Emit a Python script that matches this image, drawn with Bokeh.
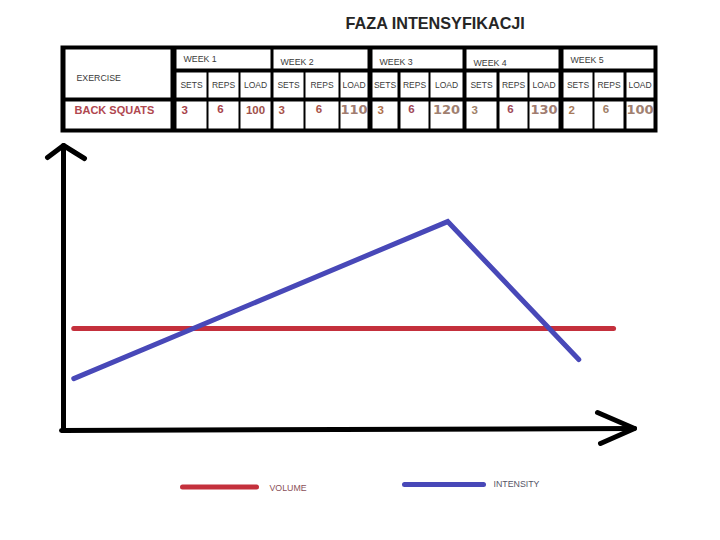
from bokeh.plotting import figure
from bokeh.models import Range1d, ColumnDataSource
from bokeh.embed import file_html
from bokeh.resources import INLINE
from bokeh.core.properties import value

# ---------------- data ----------------
title_text = "FAZA INTENSYFIKACJI"
exercise_label = "EXERCISE"
exercise_name = "BACK SQUATS"
weeks = ["WEEK 1", "WEEK 2", "WEEK 3", "WEEK 4", "WEEK 5"]
sub_columns = ["SETS", "REPS", "LOAD"]
sets = [3, 3, 3, 3, 2]
reps = [6, 6, 6, 6, 6]
loads = [100, 110, 120, 130, 100]

# chart lines (percent of axis length)
intensity_x = [1.8, 67.4, 90.4]
intensity_y = [18.2, 73.3, 24.9]
volume_x = [1.8, 96.5]
volume_y = [35.8, 35.8]
legend_labels = ["VOLUME", "INTENSITY"]

# ---------------- figure ----------------
X0, X1, Y0, Y1 = 0, 704, 0, 524
p = figure(width=X1 - X0, height=Y1 - Y0,
           x_range=Range1d(X0, X1), y_range=Range1d(Y1, Y0),
           output_backend="svg", toolbar_location=None, min_border=0,
           x_axis_location=None, y_axis_location=None)
p.xgrid.visible = False
p.ygrid.visible = False
p.outline_line_color = None
p.background_fill_color = "white"
p.border_fill_color = "white"

# chart coordinate system (axis origin and scale on the page)
ox, oy, sx, sy = 63, 430, 5.7, 2.85
p.extra_x_ranges = {"cx": Range1d((X0 - ox) / sx, (X1 - ox) / sx)}
p.extra_y_ranges = {"cy": Range1d((oy - Y1) / sy, (oy - Y0) / sy)}

# ---------------- title ----------------
p.text(x=[435], y=[22], text=[title_text], text_font=value("Liberation Sans"),
       text_font_size="16.2px", text_font_style="bold", text_color="#262626",
       text_align="center", text_baseline="middle")

# ---------------- table ----------------
sub_bounds = [(176, 206), (208, 238), (240, 270), (273, 303), (305, 338),
              (340, 367), (372, 397), (400, 428), (430, 462), (466, 496),
              (499, 527), (529, 558), (563, 592), (594, 623), (626, 653)]
row_week, row_sub, row_data = (49, 68), (72, 97), (101, 128)

p.quad(left=[60], right=[657], top=[45], bottom=[132], fill_color="black", line_color=None)

cl, cr, ct, cb = [], [], [], []
def cell(l, r, t, b):
    cl.append(l); cr.append(r); ct.append(t); cb.append(b)

cell(65, 170, 49, 97)
cell(65, 170, 101, 128)
for g in range(len(weeks)):
    cell(sub_bounds[3 * g][0], sub_bounds[3 * g + 2][1], *row_week)
for (l, r) in sub_bounds:
    cell(l, r, *row_sub)
    cell(l, r, *row_data)
p.quad(left=cl, right=cr, top=ct, bottom=cb, fill_color="white", line_color=None)

label_color = "#3a3a3a"
small = "8.8px"
p.text(x=[76], y=[77], text=[exercise_label], text_font=value("Liberation Sans"),
       text_font_size=small, text_color=label_color, text_baseline="middle")
p.text(x=[74], y=[109], text=[exercise_name], text_font=value("Liberation Sans"),
       text_font_size="11px", text_font_style="bold", text_color="#b0474f",
       text_baseline="middle")

wk_y = [58.5, 61.5, 61.5, 62, 59.5]
p.text(x=[sub_bounds[3 * g][0] + 7 for g in range(len(weeks))], y=wk_y, text=weeks,
       text_font=value("Liberation Sans"), text_font_size=small,
       text_color=label_color, text_baseline="middle")

sub_x = [(l + r) / 2 for (l, r) in sub_bounds]
p.text(x=sub_x, y=[84] * len(sub_x), text=sub_columns * len(weeks),
       text_font=value("Liberation Sans"), text_font_size="8.5px",
       text_color=label_color, text_align="center", text_baseline="middle")

set_colors = ["#a8424a", "#a8524a", "#b0704a", "#a08068", "#a87a5a"]
rep_colors = ["#a8424a", "#a8524a", "#a04858", "#a04858", "#a08068"]
load_colors = ["#a0504a", "#a07c70", "#a08070", "#a07c70", "#a08070"]

p.text(x=[sub_bounds[3 * g][0] + 5 for g in range(len(weeks))], y=[109] * len(weeks),
       text=[str(v) for v in sets], text_font=value("Liberation Sans"),
       text_font_size="11.5px", text_font_style="bold", text_color=set_colors,
       text_baseline="middle")
rep_x = [(sub_bounds[3 * g + 1][0] + sub_bounds[3 * g + 1][1]) / 2 - 3 for g in range(len(weeks))]
p.text(x=rep_x, y=[108] * len(weeks), text=[str(v) for v in reps],
       text_font=value("Liberation Sans"), text_font_size="11.5px", text_font_style="bold",
       text_color=rep_colors, text_align="center", text_baseline="middle")
load_x = [(sub_bounds[3 * g + 2][0] + sub_bounds[3 * g + 2][1]) / 2 for g in range(len(weeks))]
load_sizes = ["11.5px", "13px", "13px", "13px", "13px"]
load_fonts = ["Liberation Sans", "DejaVu Sans", "DejaVu Sans", "DejaVu Sans", "DejaVu Sans"]
for g in range(len(weeks)):
    p.text(x=[load_x[g]], y=[109], text=[str(loads[g])], text_font=value(load_fonts[g]),
           text_font_size=load_sizes[g], text_font_style="bold",
           text_color=load_colors[g], text_align="center", text_baseline="middle")

# ---------------- hand-drawn axes ----------------
p.line(x=[63, 63], y=[145, 430], line_color="black", line_width=5, line_cap="round")
p.line(x=[61, 634], y=[430, 428], line_color="black", line_width=5, line_cap="round")
p.line(x=[47, 63, 84], y=[157, 145, 158], line_color="black", line_width=5,
       line_cap="round", line_join="round")
p.line(x=[597, 634, 600], y=[412, 428, 443], line_color="black", line_width=5,
       line_cap="round", line_join="round")

# ---------------- series ----------------
red = "#c4303c"
blue = "#4848b8"
p.line(x=volume_x, y=volume_y, x_range_name="cx", y_range_name="cy",
       line_color=red, line_width=5, line_cap="round")
p.line(x=intensity_x, y=intensity_y, x_range_name="cx", y_range_name="cy",
       line_color=blue, line_width=5, line_cap="round", line_join="miter")

# ---------------- legend ----------------
p.line(x=[182, 256], y=[486.5, 486.5], line_color=red, line_width=5, line_cap="round")
p.line(x=[404, 483], y=[484, 484], line_color=blue, line_width=5, line_cap="round")
p.text(x=[269, 493], y=[487.5, 483], text=legend_labels, text_font=value("Liberation Sans"),
       text_font_size="8.8px", text_color=["#8a5058", "#555566"], text_baseline="middle")

open("out.html", "w").write(file_html(p, INLINE))
